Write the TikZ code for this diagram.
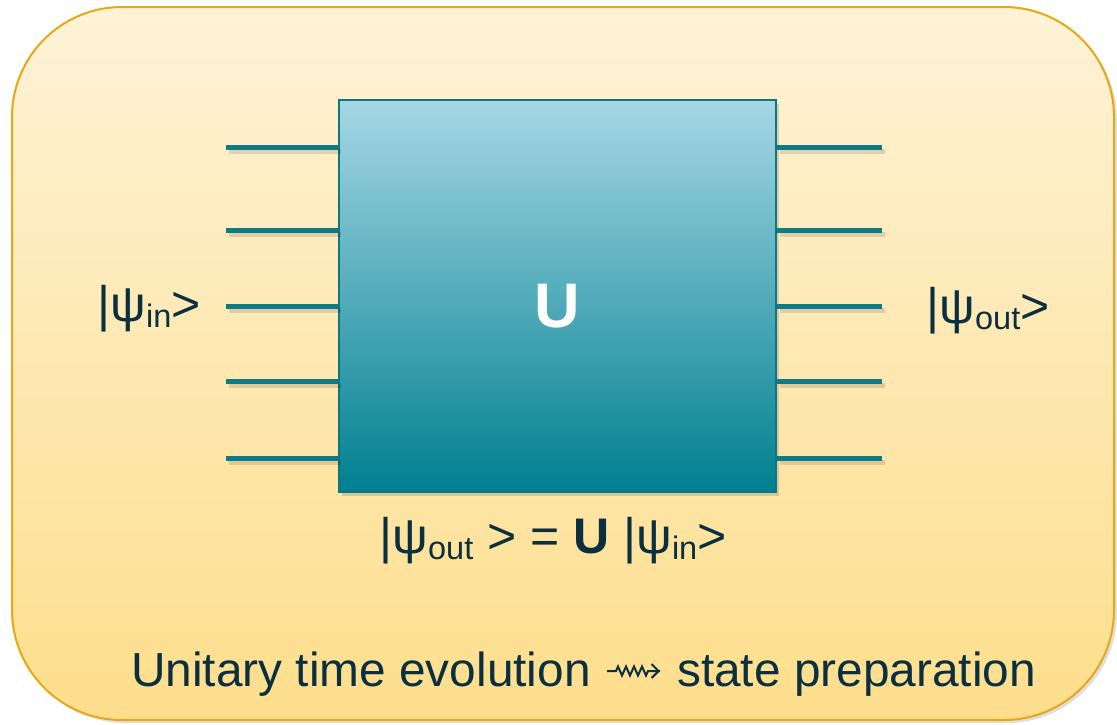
\documentclass[tikz,border=0pt]{standalone}
\usepackage{fontspec}
\setmainfont{Liberation Sans}
\usetikzlibrary{shadows,decorations.pathmorphing,arrows.meta}
\definecolor{frameborder}{RGB}{230,168,20}
\definecolor{frametop}{RGB}{254,243,215}
\definecolor{framebot}{RGB}{254,222,140}
\definecolor{boxtop}{RGB}{166,215,229}
\definecolor{boxbot}{RGB}{0,128,144}
\definecolor{boxline}{RGB}{14,118,128}
\definecolor{wire}{RGB}{14,122,134}
\definecolor{txt}{RGB}{10,47,63}
\newcommand{\lowsub}[1]{\raisebox{-0.12em}{\fontsize{32.5}{32.5}\selectfont #1}}
\tikzset{
  frame/.style={draw=frameborder, line width=2pt, rounded corners=110pt,
    top color=frametop, bottom color=framebot,
    drop shadow={shadow xshift=3pt, shadow yshift=-3pt, opacity=0.25},
    minimum width=1102pt, minimum height=713pt, inner sep=0pt},
  gate/.style={draw=boxline, line width=1.5pt, top color=boxtop, bottom color=boxbot,
    drop shadow={shadow xshift=3pt, shadow yshift=-4pt, opacity=0.3},
    minimum width=437pt, minimum height=392pt, inner sep=0pt},
  wireline/.style={draw=wire, line width=5pt},
  wireshadow/.style={draw=black, opacity=0.12, line width=5pt},
  lbl/.style={text=txt, font=\fontsize{50}{50}\selectfont, anchor=base, inner sep=0pt},
  caption/.style={text=txt, font=\fontsize{47.8}{47.8}\selectfont, inner sep=0pt},
  squiggle/.style={draw=txt, line width=2pt, line join=miter, decorate,
    decoration={zigzag, amplitude=4.5pt, segment length=8pt, pre length=9pt, post length=11pt}},
  barb/.style={draw=txt, line width=2pt, -{Straight Barb[length=7pt,width=14pt]}},
}
\begin{document}
\begin{tikzpicture}[x=1pt,y=1pt]
\useasboundingbox (0,0) rectangle (1117,-724);
\node[frame] (frame) at (563,-363.5) {};
\node[gate] (U) at (557.5,-296) {};
\node[text=white, font=\fontsize{63}{63}\selectfont\bfseries] (ulabel) at (557,-306) {U};
\foreach \i/\y in {1/147,2/230,3/306,4/381,5/458}{
  \coordinate (l\i) at (226,-\y);
  \coordinate (r\i) at (882,-\y);
  \draw[wireshadow] ([shift={(3,-4)}]l\i) -- ([shift={(3,-4)}]l\i -| U.west);
  \draw[wireshadow] ([shift={(3,-4)}]r\i -| U.east) -- ([shift={(3,-4)}]r\i);
  \draw[wireline] (l\i) -- (l\i -| U.west);
  \draw[wireline] (U.east |- r\i) -- (r\i);
}
\node[lbl] (psiin) at (149,-321) {|ψ\lowsub{in}>};
\node[lbl] (psiout) at (988,-323) {|ψ\lowsub{out}>};
\node[lbl] (eq) at (553,-553) {|ψ\lowsub{out} > = \textbf{U} |ψ\lowsub{in}>};
\node[caption, anchor=base east] (capl) at (591,-686) {Unitary time evolution};
\node[caption, anchor=base west] (capr) at (677,-686) {state preparation};
\coordinate (sqa) at (607,-671);
\coordinate (sqb) at (660,-671);
\draw[squiggle] (sqa) -- (sqb);
\draw[barb] ([xshift=-12pt]sqb) -- (sqb);
\end{tikzpicture}
\end{document}
